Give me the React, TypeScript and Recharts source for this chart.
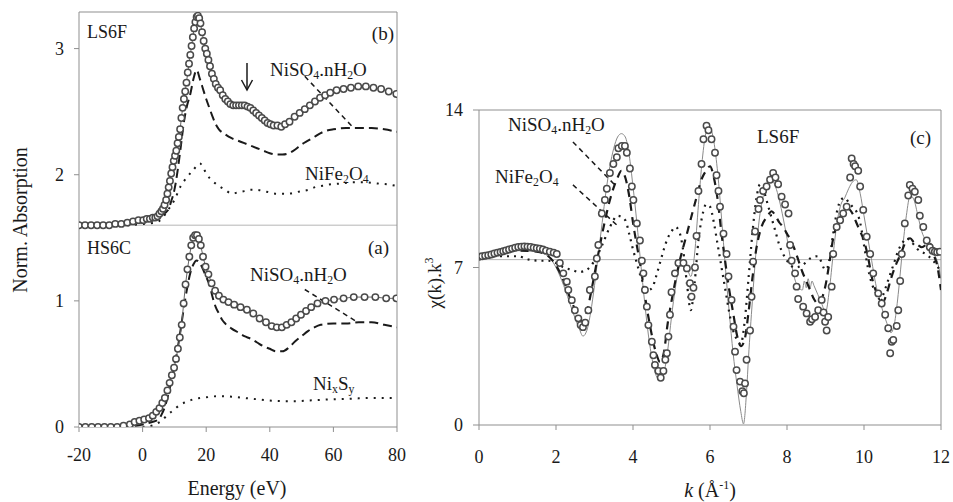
import React from 'react';
import { ComposedChart, Line, XAxis, YAxis, ReferenceLine } from 'recharts';

// ---------- Left panel: XANES (Energy, eV) ----------
const ls6fE = [-20, -18.1, -16.2, -14.3, -12.4, -10.5, -8.6, -6.7, -4.8, -3.0, -1.3, 0.2, 1.3, 2.3, 3.2, 4.0, 4.7, 5.3, 5.9, 6.4, 6.9, 7.4, 7.8, 8.2, 8.6, 9.0, 9.4, 9.8, 10.2, 10.6, 11.0, 11.4, 11.8, 12.2, 12.6, 13.0, 13.4, 13.8, 14.2, 14.6, 15.0, 15.4, 15.8, 16.2, 16.6, 17.0, 17.4, 17.8, 18.2, 18.7, 19.2, 19.7, 20.2, 20.7, 21.2, 21.8, 22.4, 23.0, 23.7, 24.4, 25.2, 26.0, 26.8, 27.6, 28.5, 29.4, 30.3, 31.2, 32.1, 33.0, 33.9, 34.8, 35.7, 36.6, 37.5, 38.4, 39.3, 40.2, 41.2, 42.4, 43.6, 44.8, 46.2, 47.8, 49.4, 51.0, 52.6, 54.2, 55.8, 57.4, 59.0, 61.0, 63.2, 65.5, 67.8, 70.2, 72.6, 75.0, 77.4, 79.8];
const ls6fMu = [1.60, 1.60, 1.60, 1.60, 1.60, 1.60, 1.61, 1.61, 1.62, 1.63, 1.64, 1.64, 1.65, 1.65, 1.66, 1.66, 1.67, 1.69, 1.71, 1.73, 1.76, 1.80, 1.85, 1.90, 1.95, 2.01, 2.06, 2.11, 2.15, 2.19, 2.25, 2.30, 2.36, 2.45, 2.53, 2.60, 2.66, 2.73, 2.81, 2.88, 2.95, 3.02, 3.09, 3.16, 3.21, 3.25, 3.26, 3.24, 3.20, 3.13, 3.06, 3.00, 2.96, 2.91, 2.86, 2.80, 2.76, 2.72, 2.69, 2.67, 2.63, 2.60, 2.58, 2.56, 2.55, 2.55, 2.55, 2.55, 2.55, 2.54, 2.53, 2.51, 2.49, 2.47, 2.45, 2.43, 2.41, 2.40, 2.39, 2.39, 2.38, 2.40, 2.42, 2.46, 2.49, 2.52, 2.55, 2.58, 2.61, 2.63, 2.65, 2.67, 2.68, 2.69, 2.70, 2.70, 2.69, 2.68, 2.66, 2.64];

const nisoBE = [-20, -5, 0, 4, 6, 8, 9, 10, 11, 12, 13, 14, 15, 16, 17, 18, 19, 20, 21, 22, 23, 24, 26, 28, 30, 32, 34, 36, 38, 40, 42, 44, 46, 48, 50, 52, 54, 56, 58, 60, 64, 68, 72, 76, 80];
const nisoBMu = [1.60, 1.61, 1.63, 1.65, 1.68, 1.72, 1.79, 1.88, 2.03, 2.22, 2.42, 2.55, 2.64, 2.76, 2.83, 2.76, 2.68, 2.60, 2.53, 2.46, 2.40, 2.36, 2.32, 2.29, 2.27, 2.25, 2.23, 2.21, 2.19, 2.17, 2.16, 2.16, 2.17, 2.20, 2.24, 2.27, 2.30, 2.33, 2.35, 2.36, 2.37, 2.37, 2.37, 2.36, 2.34];

const nifeE = [-20, -5, 0, 4, 6, 8, 10, 12, 14, 16, 18, 19, 20, 22, 24, 26, 28, 30, 32, 34, 36, 38, 40, 42, 44, 46, 48, 50, 52, 54, 56, 58, 62, 66, 70, 74, 78, 80];
const nifeMu = [1.60, 1.60, 1.61, 1.62, 1.65, 1.72, 1.80, 1.91, 1.98, 2.04, 2.09, 2.06, 2.01, 1.95, 1.91, 1.88, 1.85, 1.86, 1.87, 1.88, 1.88, 1.87, 1.86, 1.85, 1.85, 1.85, 1.86, 1.87, 1.88, 1.90, 1.91, 1.92, 1.93, 1.94, 1.94, 1.93, 1.92, 1.91];

const hs6cE = [-20, -18, -16, -14, -12, -10, -8, -6, -4, -2.5, -1, 0.5, 2, 3.2, 4.3, 5.3, 6.2, 7.0, 7.8, 8.5, 9.2, 9.9, 10.5, 11.1, 11.7, 12.3, 12.9, 13.5, 14.1, 14.7, 15.3, 15.9, 16.5, 17.1, 17.7, 18.3, 19.0, 19.8, 20.7, 21.7, 22.8, 24.0, 25.4, 27.0, 28.8, 30.8, 32.8, 34.8, 36.8, 38.8, 40.6, 42.2, 43.8, 45.3, 46.8, 48.3, 49.8, 51.4, 53.0, 55.0, 57.5, 60.2, 63.2, 66.4, 69.8, 73.2, 76.6, 79.8];
const hs6cMu = [0.00, 0.00, 0.00, 0.00, 0.00, 0.00, 0.00, 0.01, 0.02, 0.04, 0.05, 0.06, 0.07, 0.09, 0.12, 0.15, 0.19, 0.23, 0.29, 0.35, 0.41, 0.47, 0.54, 0.62, 0.71, 0.81, 0.98, 1.13, 1.25, 1.35, 1.44, 1.50, 1.52, 1.52, 1.49, 1.44, 1.35, 1.27, 1.21, 1.14, 1.08, 1.04, 1.01, 0.99, 0.97, 0.95, 0.93, 0.90, 0.86, 0.83, 0.80, 0.79, 0.79, 0.81, 0.83, 0.86, 0.89, 0.92, 0.95, 0.98, 1.00, 1.01, 1.02, 1.03, 1.03, 1.03, 1.02, 1.02];

const nisoAE = [-20, -5, 0, 3, 5, 6, 7, 8, 9, 10, 11, 12, 13, 14, 15, 16, 17, 18, 19, 20, 21, 22, 23, 24, 25, 26, 28, 30, 32, 34, 36, 38, 40, 42, 44, 46, 48, 50, 52, 54, 56, 60, 64, 68, 72, 76, 80];
const nisoAMu = [0.00, 0.00, 0.02, 0.04, 0.06, 0.10, 0.16, 0.25, 0.36, 0.48, 0.62, 0.78, 0.95, 1.10, 1.22, 1.29, 1.32, 1.30, 1.25, 1.19, 1.13, 1.03, 0.95, 0.90, 0.85, 0.82, 0.78, 0.75, 0.72, 0.70, 0.67, 0.64, 0.62, 0.60, 0.60, 0.63, 0.68, 0.72, 0.76, 0.79, 0.81, 0.82, 0.82, 0.83, 0.83, 0.81, 0.79];

const nixsyE = [0, 4, 6, 8, 10, 12, 14, 16, 20, 24, 28, 32, 36, 40, 44, 48, 52, 56, 60, 66, 72, 80];
const nixsyMu = [0.00, 0.02, 0.05, 0.10, 0.14, 0.18, 0.20, 0.22, 0.235, 0.245, 0.24, 0.23, 0.22, 0.21, 0.205, 0.205, 0.21, 0.215, 0.22, 0.225, 0.23, 0.23];

const energyTicks = [-20, 0, 20, 40, 60, 80];
const absTicks = [0, 1, 2, 3];

// ---------- Right panel: EXAFS chi(k).k^3 ----------
const dataK = [0.00, 0.08, 0.16, 0.24, 0.32, 0.40, 0.48, 0.56, 0.63, 0.70, 0.78, 0.86, 0.94, 1.02, 1.10, 1.18, 1.26, 1.34, 1.42, 1.50, 1.58, 1.66, 1.74, 1.84, 1.94, 2.02, 2.10, 2.19, 2.28, 2.32, 2.41, 2.49, 2.58, 2.64, 2.70, 2.76, 2.84, 2.88, 3.01, 3.06, 3.10, 3.19, 3.27, 3.32, 3.40, 3.49, 3.58, 3.62, 3.71, 3.79, 3.84, 3.92, 3.97, 4.01, 4.10, 4.18, 4.23, 4.27, 4.31, 4.36, 4.40, 4.49, 4.53, 4.57, 4.66, 4.72, 4.79, 4.84, 4.88, 4.92, 4.96, 5.00, 5.09, 5.18, 5.31, 5.40, 5.48, 5.52, 5.57, 5.61, 5.65, 5.70, 5.78, 5.83, 5.91, 5.96, 6.04, 6.13, 6.17, 6.22, 6.26, 6.35, 6.43, 6.48, 6.56, 6.61, 6.65, 6.69, 6.78, 6.84, 6.88, 6.91, 6.95, 7.04, 7.08, 7.12, 7.17, 7.26, 7.30, 7.38, 7.47, 7.56, 7.64, 7.70, 7.77, 7.86, 7.95, 8.04, 8.08, 8.12, 8.21, 8.25, 8.29, 8.42, 8.51, 8.60, 8.65, 8.73, 8.81, 8.90, 8.95, 8.99, 9.03, 9.07, 9.16, 9.20, 9.29, 9.38, 9.46, 9.55, 9.64, 9.68, 9.73, 9.77, 9.85, 9.90, 9.98, 10.07, 10.16, 10.24, 10.37, 10.46, 10.55, 10.63, 10.68, 10.72, 10.76, 10.85, 10.89, 10.94, 10.98, 11.06, 11.15, 11.19, 11.26, 11.32, 11.41, 11.45, 11.54, 11.63, 11.71, 11.78, 11.84, 11.90, 11.97];
const dataChi = [7.48, 7.50, 7.52, 7.55, 7.58, 7.62, 7.66, 7.69, 7.72, 7.76, 7.80, 7.84, 7.88, 7.91, 7.93, 7.94, 7.93, 7.91, 7.88, 7.86, 7.84, 7.80, 7.75, 7.70, 7.66, 7.60, 7.20, 6.74, 6.37, 6.00, 5.55, 5.10, 4.74, 4.45, 4.35, 4.55, 5.10, 6.00, 6.60, 7.40, 8.00, 9.40, 10.00, 10.50, 11.20, 11.60, 11.90, 12.30, 12.40, 12.40, 12.10, 11.40, 10.60, 10.00, 8.96, 8.20, 7.30, 6.74, 6.00, 5.26, 4.44, 3.70, 3.10, 2.67, 2.40, 2.10, 2.40, 2.90, 3.19, 3.93, 4.90, 5.90, 6.74, 7.20, 7.20, 6.96, 6.30, 5.70, 6.10, 7.00, 8.40, 10.40, 11.60, 12.70, 13.30, 13.10, 12.70, 12.10, 11.10, 10.40, 9.70, 8.50, 7.60, 6.60, 5.56, 4.37, 3.26, 2.44, 1.93, 1.50, 1.41, 1.85, 2.90, 4.20, 5.70, 7.26, 8.60, 9.60, 10.00, 10.40, 10.60, 10.90, 11.20, 11.00, 10.70, 10.15, 9.80, 9.40, 8.00, 7.30, 6.74, 6.15, 5.60, 5.26, 4.96, 4.59, 4.70, 4.80, 5.10, 5.56, 5.00, 4.59, 4.20, 4.80, 6.15, 7.60, 8.80, 9.10, 9.40, 9.70, 11.00, 11.85, 11.60, 11.50, 11.30, 10.60, 9.56, 8.37, 7.60, 6.74, 5.85, 5.40, 4.90, 4.30, 3.19, 3.70, 3.78, 4.40, 5.10, 6.40, 7.60, 8.96, 10.20, 10.67, 10.50, 10.37, 10.00, 9.30, 8.80, 8.20, 7.90, 7.75, 7.70, 7.68, 7.70];

const fitK = [0, 0.5, 1.0, 1.5, 1.8, 2.0, 2.2, 2.4, 2.6, 2.7, 2.8, 2.9, 3.0, 3.1, 3.2, 3.3, 3.4, 3.5, 3.6, 3.7, 3.8, 3.9, 4.0, 4.1, 4.2, 4.3, 4.4, 4.5, 4.6, 4.7, 4.8, 4.9, 5.0, 5.1, 5.2, 5.3, 5.4, 5.5, 5.6, 5.7, 5.8, 5.9, 6.0, 6.1, 6.2, 6.3, 6.4, 6.5, 6.6, 6.7, 6.8, 6.87, 6.95, 7.0, 7.1, 7.2, 7.3, 7.4, 7.5, 7.6, 7.7, 7.8, 7.9, 8.0, 8.1, 8.2, 8.3, 8.4, 8.45, 8.5, 8.55, 8.6, 8.65, 8.7, 8.75, 8.8, 8.9, 9.0, 9.1, 9.2, 9.3, 9.4, 9.5, 9.6, 9.7, 9.8, 9.9, 10.0, 10.1, 10.2, 10.3, 10.4, 10.5, 10.6, 10.7, 10.8, 10.9, 11.0, 11.1, 11.2, 11.3, 11.4, 11.5, 11.6, 11.7, 11.8, 11.9, 12.0];
const fitChi = [7.5, 7.6, 7.75, 7.7, 7.5, 7.0, 6.2, 5.2, 4.3, 3.95, 4.2, 5.0, 6.2, 7.6, 9.0, 10.4, 11.5, 12.3, 12.8, 12.95, 12.8, 12.0, 10.6, 9.0, 7.2, 5.5, 4.0, 2.9, 2.2, 2.0, 2.3, 3.3, 4.8, 6.1, 7.0, 7.2, 7.0, 6.6, 7.6, 9.8, 11.8, 13.0, 13.2, 12.6, 11.2, 9.2, 7.0, 5.0, 3.2, 1.8, 0.6, 0.05, 1.5, 3.0, 5.5, 7.8, 9.4, 10.3, 10.8, 10.9, 10.6, 10.0, 9.2, 8.3, 7.3, 6.5, 6.1, 6.0, 6.4, 6.1, 6.5, 6.1, 6.4, 6.2, 6.0, 5.8, 5.4, 5.0, 6.0, 7.6, 9.0, 9.8, 10.1, 10.5, 10.8, 10.9, 10.3, 9.3, 8.3, 7.3, 6.3, 5.6, 5.0, 4.5, 4.1, 4.6, 6.0, 7.8, 9.3, 10.2, 10.0, 9.3, 8.6, 8.2, 7.8, 7.6, 7.3, 6.5];

const nisoCK = [0, 0.5, 1.0, 1.5, 1.8, 2.0, 2.2, 2.4, 2.6, 2.7, 2.8, 2.9, 3.0, 3.2, 3.4, 3.6, 3.7, 3.8, 3.9, 4.0, 4.2, 4.4, 4.6, 4.7, 4.8, 4.9, 5.0, 5.2, 5.4, 5.6, 5.8, 5.9, 6.0, 6.1, 6.2, 6.3, 6.4, 6.5, 6.6, 6.7, 6.8, 6.9, 7.0, 7.1, 7.2, 7.3, 7.5, 7.6, 7.7, 7.8, 7.9, 8.0, 8.1, 8.2, 8.3, 8.4, 8.5, 8.6, 8.7, 8.8, 8.9, 9.0, 9.1, 9.2, 9.3, 9.4, 9.5, 9.6, 9.7, 9.8, 9.9, 10.0, 10.1, 10.2, 10.3, 10.4, 10.5, 10.6, 10.7, 10.8, 10.9, 11.0, 11.1, 11.2, 11.3, 11.4, 11.5, 11.7, 11.8, 11.9, 12.0];
const nisoCChi = [7.5, 7.6, 7.75, 7.7, 7.5, 7.1, 6.4, 5.5, 4.8, 4.6, 5.0, 5.8, 6.7, 8.5, 10.0, 11.0, 11.3, 11.0, 10.2, 9.0, 7.0, 4.8, 3.2, 2.8, 3.2, 4.5, 5.5, 7.2, 8.5, 9.8, 11.0, 11.3, 11.5, 11.0, 10.0, 8.5, 7.2, 6.0, 5.0, 4.0, 3.5, 3.8, 5.0, 6.5, 7.8, 8.6, 9.3, 9.5, 9.3, 9.0, 8.8, 8.5, 8.2, 7.8, 7.3, 6.8, 6.4, 6.0, 5.6, 5.4, 5.6, 6.2, 7.2, 8.3, 8.9, 9.3, 9.5, 9.6, 9.4, 9.0, 8.6, 8.2, 7.5, 6.6, 6.0, 5.7, 5.5, 5.9, 6.5, 7.0, 7.4, 7.8, 8.2, 8.3, 8.1, 8.0, 7.9, 8.1, 7.6, 7.1, 6.0];

const nifeCK = [0, 0.5, 1.0, 1.3, 1.6, 1.8, 2.0, 2.2, 2.4, 2.6, 2.8, 3.0, 3.2, 3.4, 3.6, 3.8, 3.9, 4.0, 4.1, 4.2, 4.3, 4.4, 4.5, 4.6, 4.7, 4.8, 4.9, 5.0, 5.1, 5.2, 5.3, 5.4, 5.5, 5.6, 5.7, 5.8, 5.9, 6.0, 6.1, 6.2, 6.3, 6.4, 6.5, 6.6, 6.7, 6.8, 6.9, 7.0, 7.1, 7.2, 7.3, 7.4, 7.5, 7.6, 7.7, 7.8, 7.9, 8.0, 8.2, 8.4, 8.6, 8.8, 9.0, 9.1, 9.2, 9.3, 9.4, 9.5, 9.6, 9.7, 9.8, 9.9, 10.0, 10.1, 10.2, 10.3, 10.4, 10.5, 10.6, 10.7, 10.8, 10.9, 11.0, 11.1, 11.2, 11.3, 11.4, 11.6, 11.8, 12.0];
const nifeCChi = [7.5, 7.5, 7.5, 7.35, 7.3, 7.3, 7.2, 7.0, 6.9, 6.8, 6.9, 7.3, 8.0, 8.8, 9.3, 9.1, 8.5, 7.8, 7.2, 6.6, 6.2, 6.0, 6.1, 6.6, 7.2, 7.8, 8.3, 8.6, 8.8, 8.6, 7.8, 6.3, 5.1, 6.3, 8.2, 9.3, 9.8, 9.7, 9.0, 8.0, 7.0, 6.0, 5.0, 4.2, 3.8, 3.6, 4.6, 6.5, 8.5, 10.0, 10.7, 10.4, 9.8, 9.2, 8.6, 8.0, 7.6, 7.3, 7.0, 7.1, 7.4, 7.5, 6.9, 7.3, 8.5, 9.5, 10.0, 10.1, 9.9, 9.7, 9.5, 9.0, 8.0, 7.0, 6.3, 5.9, 5.6, 5.8, 6.3, 6.8, 7.3, 7.8, 8.1, 8.3, 8.2, 8.0, 7.8, 7.6, 7.3, 6.8];

const kTicks = [0, 2, 4, 6, 8, 10, 12];
const chiTicks = [0, 7, 14];

const zip = (xs: number[], ys: number[]) => xs.map((x, i) => ({ x, y: ys[i] }));

const SERIF = 'Times New Roman, Liberation Serif, DejaVu Serif, Noto Serif, serif';
const AXIS = '#8f8f8f';
const INK = '#1a1a1a';
const tickStyle = { fill: INK, fontSize: 18, fontFamily: SERIF };

const circleDot = { r: 3.2, stroke: '#4a4a4a', strokeWidth: 1.5, fill: '#ffffff' };

function Chem({ x, y, parts, size, anchor }: { x: number; y: number; parts: [string, boolean][]; size: number; anchor?: string }) {
  return (
    <text x={x} y={y} style={{ fontFamily: SERIF }} fontSize={size} fill={INK} textAnchor={anchor || 'start'}>
      {parts.map(([t, sub], i) => (
        <tspan key={i} fontSize={sub ? size * 0.62 : size} dy={sub ? 3 : (i > 0 && parts[i - 1][1] ? -3 : 0)}>{t}</tspan>
      ))}
    </text>
  );
}

const NISO: [string, boolean][] = [['NiSO', false], ['4', true], ['.nH', false], ['2', true], ['O', false]];
const NIFE: [string, boolean][] = [['NiFe', false], ['2', true], ['O', false], ['4', true]];
const NIXSY: [string, boolean][] = [['Ni', false], ['x', true], ['S', false], ['y', true]];

const T = { fontFamily: SERIF };

export default function App() {
  return (
    <div style={{ position: 'absolute', left: 0, top: 0, width: 953, height: 502, background: '#fff', fontFamily: SERIF }}>
      <div style={{ position: 'absolute', left: 0, top: 0 }}>
        <ComposedChart width={420} height={502} margin={{ top: 12, right: 23, bottom: 45, left: 0 }}>
          <XAxis type="number" dataKey="x" domain={[-20, 80]} ticks={energyTicks} allowDataOverflow
            stroke={AXIS} tick={tickStyle} tickSize={5} tickMargin={16} height={30} />
          <YAxis type="number" domain={[0, 3.29]} ticks={absTicks} allowDataOverflow
            stroke={AXIS} tick={tickStyle} tickSize={5} tickMargin={10} width={79} />
          <ReferenceLine y={1.6} stroke="#b5b5b5" strokeWidth={1} />
          <ReferenceLine y={3.29} stroke={AXIS} strokeWidth={1} />
          <ReferenceLine x={80} stroke={AXIS} strokeWidth={1} />
          <ReferenceLine segment={[{ x: 51, y: 2.78 }, { x: 66, y: 2.38 }]} stroke={INK} strokeWidth={1.5} strokeDasharray="5 4" />
          <ReferenceLine segment={[{ x: 51, y: 1.09 }, { x: 67, y: 0.84 }]} stroke={INK} strokeWidth={1.5} strokeDasharray="5 4" />
          <Line data={zip(nifeE, nifeMu)} dataKey="y" type="monotone" stroke={INK} strokeWidth={2} strokeDasharray="2 6" dot={false} activeDot={false} isAnimationActive={false} />
          <Line data={zip(nixsyE, nixsyMu)} dataKey="y" type="monotone" stroke={INK} strokeWidth={2} strokeDasharray="2 6" dot={false} activeDot={false} isAnimationActive={false} />
          <Line data={zip(nisoBE, nisoBMu)} dataKey="y" type="monotone" stroke={INK} strokeWidth={2} strokeDasharray="9 5" dot={false} activeDot={false} isAnimationActive={false} />
          <Line data={zip(nisoAE, nisoAMu)} dataKey="y" type="monotone" stroke={INK} strokeWidth={2} strokeDasharray="9 5" dot={false} activeDot={false} isAnimationActive={false} />
          <Line data={zip(ls6fE, ls6fMu)} dataKey="y" type="linear" stroke="#666" strokeWidth={1} dot={circleDot} activeDot={false} isAnimationActive={false} />
          <Line data={zip(hs6cE, hs6cMu)} dataKey="y" type="linear" stroke="#666" strokeWidth={1} dot={circleDot} activeDot={false} isAnimationActive={false} />
        </ComposedChart>
      </div>
      <div style={{ position: 'absolute', left: 420, top: 0 }}>
        <ComposedChart width={533} height={502} margin={{ top: 110, right: 12, bottom: 47, left: 0 }}>
          <XAxis type="number" dataKey="x" domain={[0, 12]} ticks={kTicks} allowDataOverflow
            stroke={AXIS} tick={tickStyle} tickSize={5} tickMargin={20} height={30} />
          <YAxis type="number" domain={[0, 14]} ticks={chiTicks} allowDataOverflow
            stroke={AXIS} tick={tickStyle} tickSize={6} tickMargin={10} width={59} />
          <ReferenceLine y={7.35} stroke="#b5b5b5" strokeWidth={1} />
          <ReferenceLine y={14} stroke={AXIS} strokeWidth={1} />
          <ReferenceLine x={12} stroke={AXIS} strokeWidth={1} />
          <ReferenceLine segment={[{ x: 2.44, y: 12.58 }, { x: 3.58, y: 10.58 }]} stroke={INK} strokeWidth={1.5} strokeDasharray="5 4" />
          <ReferenceLine segment={[{ x: 2.44, y: 10.67 }, { x: 3.58, y: 8.89 }]} stroke={INK} strokeWidth={1.5} strokeDasharray="5 4" />
          <Line data={zip(fitK, fitChi)} dataKey="y" type="monotone" stroke="#8a8a8a" strokeWidth={1} dot={false} activeDot={false} isAnimationActive={false} />
          <Line data={zip(nifeCK, nifeCChi)} dataKey="y" type="monotone" stroke={INK} strokeWidth={2.2} strokeDasharray="2 5" dot={false} activeDot={false} isAnimationActive={false} />
          <Line data={zip(nisoCK, nisoCChi)} dataKey="y" type="monotone" stroke={INK} strokeWidth={2.2} strokeDasharray="8 6" dot={false} activeDot={false} isAnimationActive={false} />
          <Line data={zip(dataK, dataChi)} dataKey="y" type="linear" stroke="none" strokeWidth={0} dot={circleDot} activeDot={false} isAnimationActive={false} />
        </ComposedChart>
      </div>
      <svg width={953} height={502} style={{ position: 'absolute', left: 0, top: 0, pointerEvents: 'none' }}>
        {/* left panel annotations */}
        <text x={87} y={38} style={T} fontSize={18} fill={INK}>LS6F</text>
        <text x={394} y={40} style={T} fontSize={19} fill={INK} textAnchor="end">(b)</text>
        <Chem x={270} y={76} parts={NISO} size={19} />
        <Chem x={305} y={180} parts={NIFE} size={19} />
        <line x1={247} y1={63} x2={247} y2={90} stroke={INK} strokeWidth={1.5} />
        <polyline points="241.5,80 247,90 252.5,80" fill="none" stroke={INK} strokeWidth={1.5} />
        <text x={87} y={254} style={T} fontSize={18} fill={INK}>HS6C</text>
        <text x={389} y={254} style={T} fontSize={19} fill={INK} textAnchor="end">(a)</text>
        <Chem x={250} y={281} parts={NISO} size={19} />
        <Chem x={313} y={390} parts={NIXSY} size={19} />
        <text x={237} y={495} style={T} fontSize={20} fill={INK} textAnchor="middle">Energy (eV)</text>
        <text x={0} y={0} style={T} fontSize={20} fill={INK} textAnchor="middle" transform="translate(27,220) rotate(-90)">Norm. Absorption</text>
        {/* right panel annotations */}
        <Chem x={508} y={131} parts={NISO} size={19} />
        <Chem x={495} y={183} parts={NIFE} size={19} />
        <text x={757} y={143} style={T} fontSize={19} fill={INK}>LS6F</text>
        <text x={931} y={144} style={T} fontSize={19} fill={INK} textAnchor="end">(c)</text>
        <text x={0} y={0} style={T} fontSize={19} fill={INK} textAnchor="middle" transform="translate(441,283) rotate(-90)">
          <tspan>χ(k).k</tspan><tspan fontSize={12} dy={-8}>3</tspan>
        </text>
        <text x={710} y={497} style={T} fontSize={20} fill={INK} textAnchor="middle">
          <tspan fontStyle="italic">k</tspan><tspan> (Å</tspan><tspan fontSize={12} dy={-8}>-1</tspan><tspan dy={8}>)</tspan>
        </text>
      </svg>
    </div>
  );
}
